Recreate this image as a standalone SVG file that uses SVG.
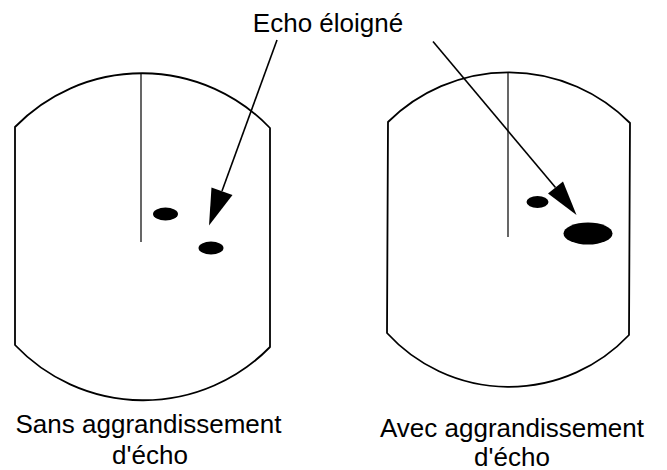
<svg xmlns="http://www.w3.org/2000/svg" width="667" height="470" viewBox="0 0 667 470">
<style>
.scr{fill:none;stroke:#000;stroke-width:1.8;stroke-linejoin:round}
.axis{stroke:#000;stroke-width:1.2}
.blip{fill:#000}
.lead{stroke:#000;stroke-width:1.6;fill:none}
.head{fill:#000}
text{font-family:"Liberation Sans",Arial,sans-serif;font-size:26px;fill:#000;text-anchor:middle}
</style>
<rect width="667" height="470" fill="#fff"/>
<g id="screen-left">
<path class="scr" d="M15,127 A177,177 0 0 1 270,128 L270,347 A177,177 0 0 1 15,345 Z"/>
<line class="axis" x1="141" y1="74" x2="141" y2="242"/>
<ellipse class="blip" cx="165.5" cy="214" rx="12.5" ry="6.5"/>
<ellipse class="blip" cx="211" cy="248" rx="12.5" ry="6.5"/>
</g>
<g id="screen-right">
<path class="scr" d="M388,122 A171,171 0 0 1 630,123 L629,335 A165,165 0 0 1 387,333 Z"/>
<line class="axis" x1="508" y1="73" x2="508" y2="237"/>
<ellipse class="blip" cx="537.5" cy="202" rx="11" ry="6"/>
<ellipse class="blip" cx="588" cy="233.5" rx="24.5" ry="11"/>
</g>
<g id="connectors">
<line class="lead" x1="277" y1="40" x2="222" y2="191"/>
<polygon class="head" points="209,225.5 211.5,187.5 232.5,195"/>
<line class="lead" x1="433" y1="41.5" x2="555.5" y2="187.5"/>
<polygon class="head" points="576.5,215 548,193.5 563,181.5"/>
</g>
<g id="labels">
<text x="328" y="32">Echo éloigné</text>
<text x="148.5" y="433">Sans aggrandissement</text>
<text x="150" y="464">d'écho</text>
<text x="512" y="437">Avec aggrandissement</text>
<text x="512" y="465.5">d'écho</text>
</g>
</svg>
